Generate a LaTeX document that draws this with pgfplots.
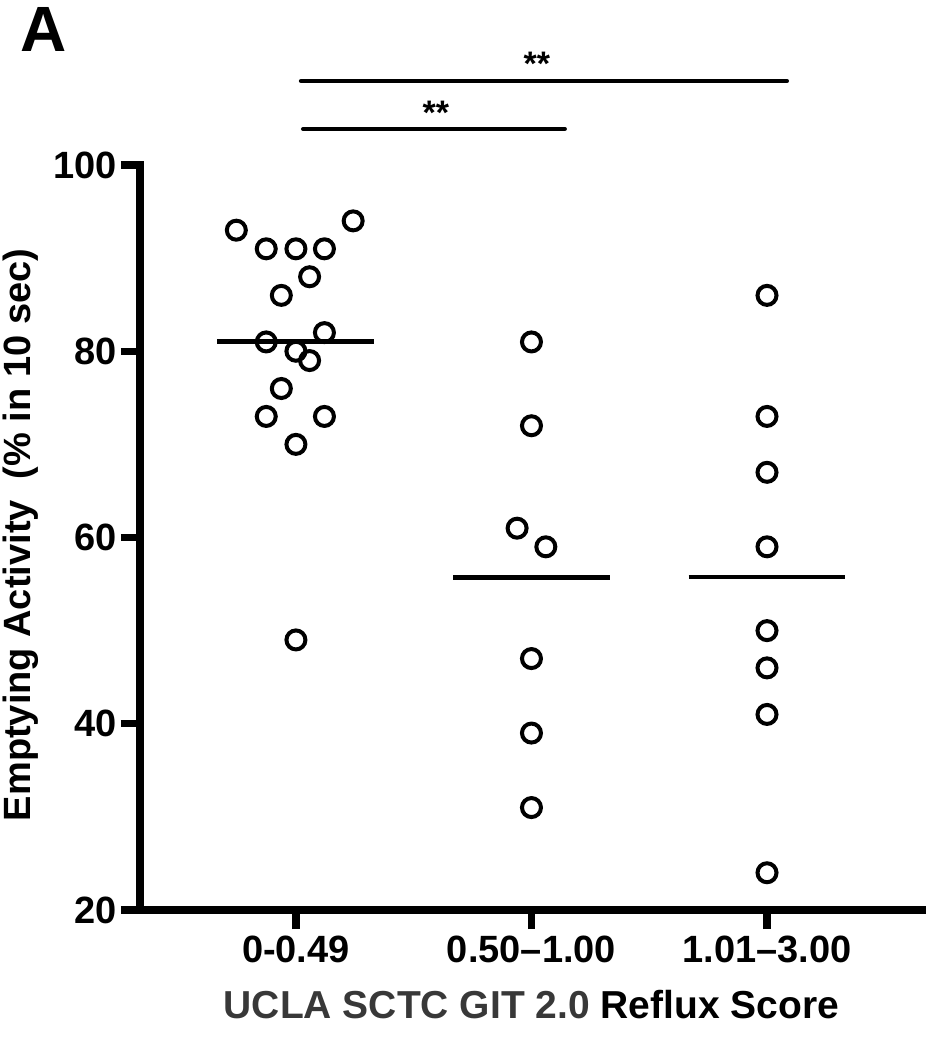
\documentclass[border=0pt]{standalone}
\usepackage{pgfplots}
\pgfplotsset{compat=1.18}
\usepackage{fontspec}
\setmainfont{Liberation Sans}
\begin{document}
\begin{tikzpicture}
\begin{axis}[
  at={(0pt,0pt)}, anchor=south west,
  scale only axis, width=391pt, height=372.5pt,
  xmin=-0.662, xmax=2.658, ymin=20, ymax=100,
  axis x line*=bottom, axis y line*=left,
  axis line style={line width=3.6pt, -, line cap=rect},
  tick style={line width=3.6pt, black},
  major tick length=9.5pt,
  tick align=outside,
  xtick={0,1,2}, xticklabels={0-0.49, 0.50–1.00, 1.01–3.00},
  ytick={20,40,60,80,100},
  ticklabel style={font=\fontsize{19}{19}\selectfont\bfseries},
  yticklabel style={xshift=1.5pt},
  /pgf/number format/assume math mode=true,
  clip=false,
  ylabel={Emptying Activity\ \ (\% in 10 sec)},
  ylabel style={font=\fontsize{19}{19}\selectfont\bfseries, at={(axis description cs:-0.152,0.888)}, anchor=east, inner sep=0pt},
  xlabel={{\color[gray]{0.22}UCLA SCTC GIT 2.0} Reflux Score},
  xlabel style={font=\fontsize{19.5}{19.5}\selectfont\bfseries, at={(axis cs:1,20)}, anchor=base, yshift=-54pt},
]
\addplot[only marks, mark=o, mark size=4.75pt, mark options={line width=2pt, black}] coordinates {
 (-0.253,93) (0.243,94) (-0.126,91) (0,91) (0.121,91) (0.058,88) (-0.062,86) (-0.126,81)
 (0.121,82) (0,80) (0.058,79) (-0.062,76) (-0.126,73) (0.121,73) (0,70) (0,49)
};
\addplot[only marks, mark=o, mark size=4.75pt, mark options={line width=2pt, black}] coordinates {
 (1,81) (1,72) (0.939,61) (1.061,59) (1,47) (1,39) (1,31)
};
\addplot[only marks, mark=o, mark size=4.75pt, mark options={line width=2pt, black}] coordinates {
 (2,86) (2,73) (2,67) (2,59) (2,50) (2,46) (2,41) (2,24)
};
% means
\addplot[black, line width=2.4pt, no marks] coordinates {(-0.333,81.06) (0.333,81.06)};
\addplot[black, line width=2.4pt, no marks] coordinates {(0.667,55.71) (1.333,55.71)};
\addplot[black, line width=2.4pt, no marks] coordinates {(1.667,55.75) (2.333,55.75)};
% significance bars
\addplot[black, line width=2pt, line cap=round, no marks] coordinates {(0.021,109.02) (2.085,109.02)};
\addplot[black, line width=2pt, line cap=round, no marks] coordinates {(0.030,103.87) (1.142,103.87)};
\node[font=\fontsize{17}{17}\selectfont\bfseries, anchor=base, inner sep=0pt] at (axis cs:1.023,109.6) {**};
\node[font=\fontsize{17}{17}\selectfont\bfseries, anchor=base, inner sep=0pt] at (axis cs:0.594,104.4) {**};
\end{axis}
\node[font=\fontsize{32}{32}\selectfont\bfseries, anchor=base west, inner sep=0pt] at (-60pt,429pt) {A};
\path[use as bounding box] (-70pt,-70pt) rectangle (392pt,455pt);
\end{tikzpicture}
\end{document}
